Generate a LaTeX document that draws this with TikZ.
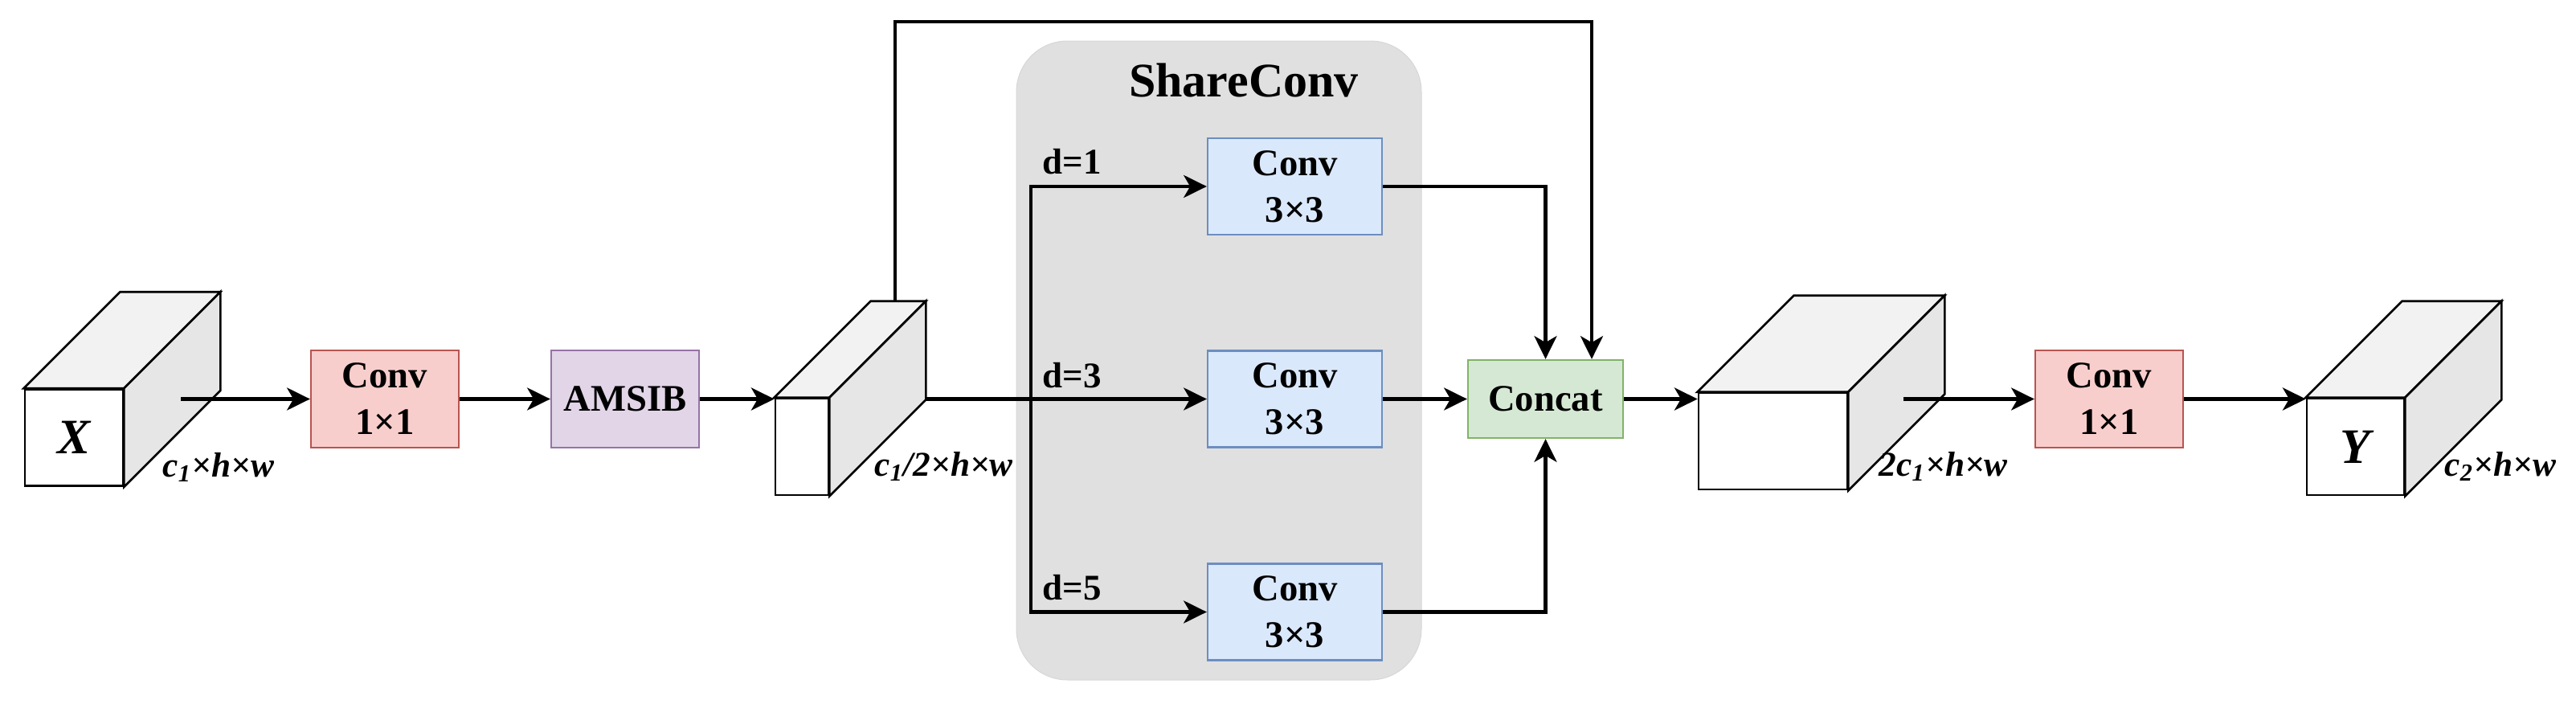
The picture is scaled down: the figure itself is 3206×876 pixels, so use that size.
\documentclass[tikz,border=0pt]{standalone}
\usepackage{fontspec}
\setmainfont{Liberation Serif}
\usetikzlibrary{arrows.meta,calc}
\definecolor{redfill}{HTML}{F8CECC}
\definecolor{redline}{HTML}{B85450}
\definecolor{purfill}{HTML}{E1D5E7}
\definecolor{purline}{HTML}{9673A6}
\definecolor{bluefill}{HTML}{DAE8FC}
\definecolor{blueline}{HTML}{6C8EBF}
\definecolor{grnfill}{HTML}{D5E8D4}
\definecolor{grnline}{HTML}{82B366}
\definecolor{groupfill}{HTML}{E0E0E0}
\definecolor{topface}{HTML}{F2F2F2}
\definecolor{sideface}{HTML}{E6E6E6}
\begin{document}
\begin{tikzpicture}[x=0.3pt,y=-0.3pt,
  boxtxt/.style={align=center, inner sep=0pt, line width=0.7pt,
    font=\fontsize{14}{17.4}\selectfont\bfseries},
  convred/.style={boxtxt, draw=redline, fill=redfill, minimum width=55.2pt, minimum height=36.3pt},
  purbox/.style={boxtxt, draw=purline, fill=purfill, minimum width=55.2pt, minimum height=36.3pt},
  convblue/.style={boxtxt, draw=blueline, fill=bluefill, minimum width=65.1pt, minimum height=36pt},
  catbox/.style={boxtxt, draw=grnline, fill=grnfill, minimum width=57.9pt, minimum height=29.1pt},
  front/.style={draw, fill=white, line width=0.8pt, inner sep=0pt, minimum height=36pt,
    font=\fontsize{18.5}{20}\selectfont\bfseries\itshape},
  cubeln/.style={draw, line width=0.8pt, line join=miter},
  dimlbl/.style={anchor=base west, inner sep=0pt, font=\fontsize{13}{15}\selectfont\bfseries\itshape},
  dlbl/.style={anchor=west, inner sep=0pt, font=\fontsize{13.5}{15}\selectfont\bfseries},
  ln/.style={line width=1.3pt, line join=miter},
  arr/.style={ln, -{Stealth[length=8.6pt,width=8.4pt,inset=2.4pt]}},
]
\useasboundingbox (0,0) rectangle (3206,876);

% ShareConv group
\node[fill=groupfill, draw=groupfill!96!black, line width=0.3pt, rounded corners=19pt,
  minimum width=151.2pt, minimum height=238.5pt, inner sep=0pt] (grp) at (1517,448.5) {};
\node[font=\fontsize{18}{20}\selectfont\bfseries, inner sep=0pt] (title) at (1548,100) {ShareConv};

% cubes: front faces
\node[front, minimum width=36.6pt] (cx) at (92,544.5) {X};
\node[front, minimum width=19.8pt] (c2) at (998,556) {};
\node[front, minimum width=55.5pt] (c3) at (2206.5,549) {};
\node[front, minimum width=36.3pt] (cy) at (2931.5,556) {Y};

\foreach \c in {cx,c2,c3,cy}{
  \path[cubeln, fill=topface] (\c.north west) -- ++(120,-120) -- ($(\c.north east)+(120,-120)$) -- (\c.north east) -- cycle;
  \path[cubeln, fill=sideface] (\c.north east) -- ++(120,-120) -- ($(\c.south east)+(120,-120)$) -- (\c.south east) -- cycle;
}

% boxes
\node[convred] (conv1) at (479,496.5) {Conv\\1×1};
\node[purbox] (amsib) at (778,496.5) {AMSIB};
\node[convblue] (d1) at (1611.5,232) {Conv\\3×3};
\node[convblue] (d3) at (1611.5,496.5) {Conv\\3×3};
\node[convblue] (d5) at (1611.5,761.5) {Conv\\3×3};
\node[catbox] (cat) at (1923.5,496.5) {Concat};
\node[convred] (conv2) at (2625,496.5) {Conv\\1×1};

% labels
\node[dimlbl] (lx) at (202,593) {c\textsubscript{1}×h×w};
\node[dimlbl] (l2) at (1088,592) {c\textsubscript{1}/2×h×w};
\node[dimlbl] (l3) at (2338,592) {2c\textsubscript{1}×h×w};
\node[dimlbl] (ly) at (3042,592) {c\textsubscript{2}×h×w};
\node[dlbl] (t1) at (1297,201) {d=1};
\node[dlbl] (t3) at (1297,467) {d=3};
\node[dlbl] (t5) at (1297,731) {d=5};

% coordinates
\coordinate (xout) at (225,496.5);
\coordinate (c2out) at (1151,496.5);
\coordinate (c2top) at (1114,376);
\coordinate (sk1) at (1114,27);
\coordinate (sk2) at (1981,27);
\coordinate (br1) at (1283,232);
\coordinate (br5) at (1283,761.5);
\coordinate (c3out) at (2369,496.5);

% connectors
\draw[arr] (xout) -- (conv1.west);
\draw[arr] (conv1.east) -- (amsib.west);
\draw[arr] (amsib.east) -- (amsib.east -| c2.west);
\draw[arr] (c2out) -- (d3.west);
\draw[arr] (br5) -- (br1) -- (d1.west);
\draw[arr] (br1) -- (br5) -- (d5.west);
\draw[arr] (c2top) -- (sk1) -- (sk2) -- (sk2 |- cat.north);
\draw[arr] (d1.east) -- (d1.east -| cat.north) -- (cat.north);
\draw[arr] (d3.east) -- (cat.west);
\draw[arr] (d5.east) -- (d5.east -| cat.south) -- (cat.south);
\draw[arr] (cat.east) -- (cat.east -| c3.west);
\draw[arr] (c3out) -- (conv2.west);
\draw[arr] (conv2.east) -- (conv2.east -| cy.west);
\end{tikzpicture}
\end{document}
